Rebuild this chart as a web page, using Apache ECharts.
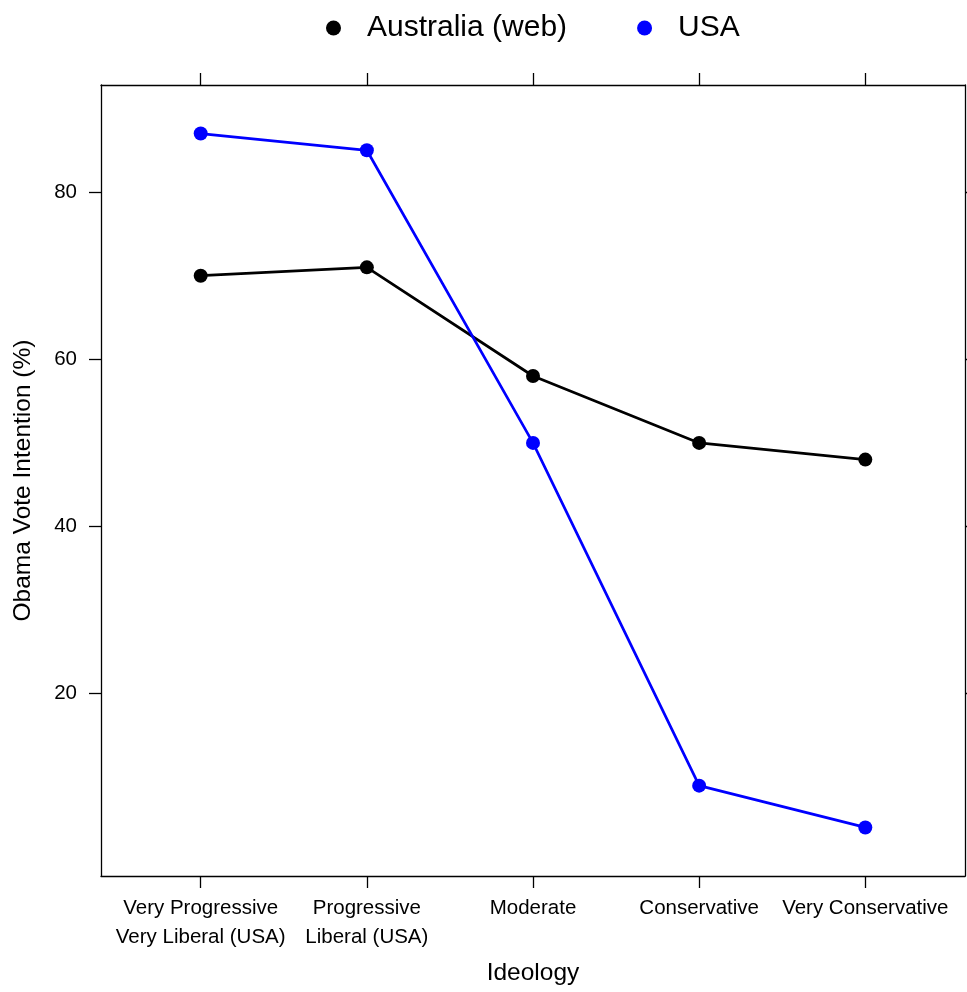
<!DOCTYPE html>
<html>
<head>
<meta charset="utf-8">
<script src="https://cdn.jsdelivr.net/npm/echarts@6/dist/echarts.min.js"></script>
<style>
html,body{margin:0;padding:0;background:#fff;}
#chart{width:967px;height:992px;}
</style>
</head>
<body>
<div id="chart"></div>
<script>
const categories = ['Very Progressive\nVery Liberal (USA)', 'Progressive\nLiberal (USA)', 'Moderate', 'Conservative', 'Very Conservative'];
const australia = [70, 71, 58, 50, 48];
const usa = [87, 85, 50, 9, 4];
const yTicks = [20, 40, 60, 80];
const xTicks = [1, 2, 3, 4, 5];

const FONT = 'Liberation Sans, Arial, sans-serif';
const chart = echarts.init(document.getElementById('chart'), null, {renderer: 'canvas'});

const toPairs = arr => arr.map((v, i) => [xTicks[i], v]);
const lineStyleAxis = () => ({show: true, onZero: false, lineStyle: {color: '#000', width: 1.3}});
const tickStyle = {show: true, inside: false, length: 12, lineStyle: {color: '#000', width: 1.3}};

const option = {
  animation: false,
  backgroundColor: '#fff',
  textStyle: {fontFamily: FONT},
  legend: {
    top: 8,
    left: 321,
    itemWidth: 15,
    itemHeight: 15,
    itemGap: 70,
    icon: 'circle',
    textStyle: {fontFamily: FONT, fontSize: 30, color: '#000', padding: [0, 0, 0, 21]},
    data: ['Australia (web)', 'USA']
  },
  grid: {left: 101, right: 2, top: 85, bottom: 116, containLabel: false},
  xAxis: [
    {
      type: 'value', position: 'bottom', min: 0.4, max: 5.6,
      name: 'Ideology', nameLocation: 'middle', nameGap: 85,
      nameTextStyle: {fontFamily: FONT, fontSize: 24.5, color: '#000'},
      axisLine: lineStyleAxis(),
      axisTick: Object.assign({customValues: xTicks}, tickStyle),
      axisLabel: {
        customValues: xTicks, margin: 18, fontFamily: FONT, fontSize: 20.5, color: '#000', lineHeight: 29,
        formatter: v => categories[Math.round(v) - 1] || ''
      },
      splitLine: {show: false}
    },
    {
      type: 'value', position: 'top', min: 0.4, max: 5.6,
      axisLine: lineStyleAxis(),
      axisTick: Object.assign({customValues: xTicks}, tickStyle),
      axisLabel: {show: false},
      splitLine: {show: false}
    }
  ],
  yAxis: [
    {
      type: 'value', position: 'left', min: -1.81, max: 92.81,
      name: 'Obama Vote Intention (%)', nameLocation: 'middle', nameGap: 65,
      nameTextStyle: {fontFamily: FONT, fontSize: 24.5, color: '#000'},
      axisLine: lineStyleAxis(),
      axisTick: Object.assign({customValues: yTicks}, tickStyle),
      axisLabel: {customValues: yTicks, margin: 24, fontFamily: FONT, fontSize: 20.5, color: '#000'},
      splitLine: {show: false}
    },
    {
      type: 'value', position: 'right', min: -1.81, max: 92.81,
      axisLine: lineStyleAxis(),
      axisTick: Object.assign({customValues: yTicks}, tickStyle),
      axisLabel: {show: false},
      splitLine: {show: false}
    }
  ],
  series: [
    {
      name: 'Australia (web)', type: 'line', xAxisIndex: 0, yAxisIndex: 0,
      data: toPairs(australia),
      symbol: 'circle', symbolSize: 14, showSymbol: true,
      lineStyle: {color: '#000', width: 2.7},
      itemStyle: {color: '#000'}
    },
    {
      name: 'USA', type: 'line', xAxisIndex: 0, yAxisIndex: 0,
      data: toPairs(usa),
      symbol: 'circle', symbolSize: 14, showSymbol: true,
      lineStyle: {color: '#0000FF', width: 2.7},
      itemStyle: {color: '#0000FF'}
    }
  ]
};
chart.setOption(option);
</script>
</body>
</html>
